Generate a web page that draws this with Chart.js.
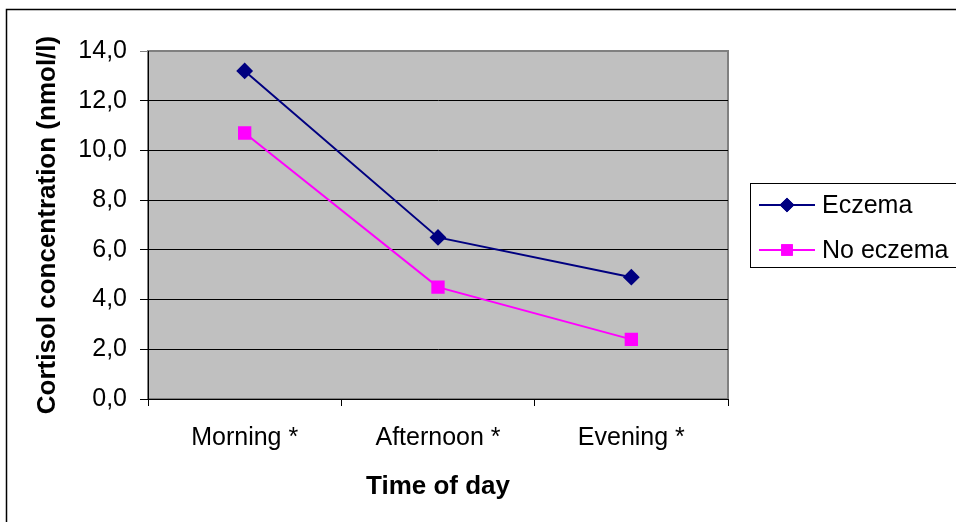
<!DOCTYPE html>
<html lang="en">
<head>
    <meta charset="UTF-8">
    <title>Cortisol concentration by time of day</title>
    <script src="https://cdn.jsdelivr.net/npm/chart.js"></script>
    <style>
        body { margin: 0; background: #fff; }
    </style>
</head>
<body>
    <canvas id="cortisolChart" width="956" height="522"></canvas>
    <script>
        const timesOfDay = ['Morning *', 'Afternoon *', 'Evening *'];
        const eczema = [13.2, 6.5, 4.9];
        const noEczema = [10.7, 4.5, 2.4];
        const seriesNames = ['Eczema', 'No eczema'];

        const FONT = 'Arial, "Liberation Sans", sans-serif';

        // grey plot area + outer frame, like the old spreadsheet chart
        const frame = {
            id: 'frame',
            beforeDraw(chart) {
                const ctx = chart.ctx;
                const a = chart.chartArea;
                ctx.save();
                ctx.fillStyle = '#fff';
                ctx.fillRect(0, 0, chart.width, chart.height);
                ctx.strokeStyle = '#000';
                ctx.lineWidth = 1.5;
                ctx.strokeRect(6.5, 9.5, chart.width + 10, chart.height + 10);
                ctx.fillStyle = '#c0c0c0';
                ctx.fillRect(a.left, a.top, a.right - a.left, a.bottom - a.top);
                ctx.strokeStyle = '#808080';
                ctx.lineWidth = 2;
                ctx.strokeRect(a.left, a.top, a.right - a.left, a.bottom - a.top);
                ctx.restore();
            }
        };

        // boxed legend with line + marker samples
        const boxLegend = {
            id: 'boxLegend',
            afterDraw(chart) {
                const ctx = chart.ctx;
                ctx.save();
                ctx.strokeStyle = '#000';
                ctx.lineWidth = 1;
                ctx.strokeRect(750.5, 183.5, 230, 84);
                ctx.font = '25px ' + FONT;
                ctx.textBaseline = 'middle';
                const rows = [205, 250];
                chart.data.datasets.forEach((ds, i) => {
                    const y = rows[i];
                    ctx.strokeStyle = ds.borderColor;
                    ctx.lineWidth = 2;
                    ctx.beginPath();
                    ctx.moveTo(759, y);
                    ctx.lineTo(815, y);
                    ctx.stroke();
                    Chart.helpers.drawPoint(ctx, {
                        pointStyle: ds.pointStyle,
                        radius: ds.pointRadius * 0.85,
                        borderWidth: 1
                    }, 787, y);
                    ctx.fillStyle = ds.pointBackgroundColor;
                    ctx.strokeStyle = ds.pointBorderColor;
                    ctx.fill();
                    ctx.stroke();
                    ctx.fillStyle = '#000';
                    ctx.fillText(ds.label, 822, y + 1);
                });
                ctx.restore();
            }
        };

        const ctx = document.getElementById('cortisolChart').getContext('2d');
        new Chart(ctx, {
            type: 'line',
            data: {
                labels: timesOfDay,
                datasets: [{
                    label: seriesNames[0],
                    data: eczema,
                    borderColor: '#000080',
                    borderWidth: 2,
                    pointStyle: 'rectRot',
                    pointRadius: 7,
                    pointBackgroundColor: '#000080',
                    pointBorderColor: '#000080',
                    fill: false,
                    tension: 0
                }, {
                    label: seriesNames[1],
                    data: noEczema,
                    borderColor: '#ff00ff',
                    borderWidth: 2,
                    pointStyle: 'rect',
                    pointRadius: 8,
                    pointBackgroundColor: '#ff00ff',
                    pointBorderColor: '#ff00ff',
                    fill: false,
                    tension: 0
                }]
            },
            options: {
                responsive: false,
                animation: false,
                layout: { padding: { top: 51, right: 228, bottom: 0, left: 0 } },
                plugins: {
                    legend: { display: false },
                    tooltip: { enabled: false }
                },
                scales: {
                    x: {
                        offset: true,
                        afterFit(scale) { scale.height = 123; },
                        grid: {
                            offset: true,
                            drawOnChartArea: false,
                            color: '#000',
                            tickLength: 7
                        },
                        border: { color: '#000', width: 1 },
                        ticks: {
                            color: '#000',
                            padding: 17,
                            font: { family: FONT, size: 25 }
                        },
                        title: {
                            display: true,
                            text: 'Time of day',
                            color: '#000',
                            padding: { top: 0, bottom: 20 },
                            font: { family: FONT, size: 26, weight: 'bold' }
                        }
                    },
                    y: {
                        min: 0,
                        max: 14,
                        afterFit(scale) { scale.width = 148; },
                        grid: {
                            color: (c) => c.tick && c.tick.value === 14 ? '#808080' : '#000',
                            lineWidth: 1,
                            tickLength: 8
                        },
                        border: { color: '#000', width: 1 },
                        ticks: {
                            stepSize: 2,
                            color: '#000',
                            padding: 13,
                            font: { family: FONT, size: 25 },
                            callback: (v) => v.toFixed(1).replace('.', ',')
                        },
                        title: {
                            display: true,
                            text: 'Cortisol concentration (nmol/l)',
                            color: '#000',
                            padding: { top: 32, bottom: 0 },
                            font: { family: FONT, size: 26, weight: 'bold' }
                        }
                    }
                }
            },
            plugins: [frame, boxLegend]
        });
    </script>
</body>
</html>
